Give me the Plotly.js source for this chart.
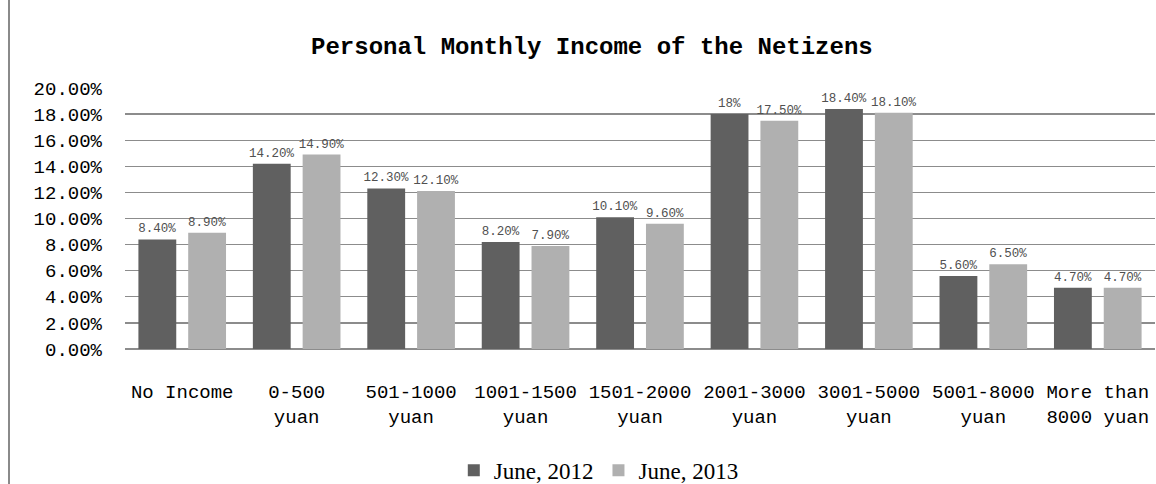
<!DOCTYPE html>
<html>
<head>
<meta charset="utf-8">
<script src="https://cdn.plot.ly/plotly-3.0.1.min.js"></script>
<style>
html,body{margin:0;padding:0;background:#fff;}
#wrap{position:relative;width:1156px;height:484px;}
#chart{width:1156px;height:484px;}
#edge{position:absolute;left:8px;top:0;width:2px;height:484px;background:#8a8a8a;}
</style>
</head>
<body>
<div id="wrap"><div id="chart"></div><div id="edge"></div></div>
<script>
const categories = ["No Income", "0-500<br>yuan", "501-1000<br>yuan", "1001-1500<br>yuan", "1501-2000<br>yuan", "2001-3000<br>yuan", "3001-5000<br>yuan", "5001-8000<br>yuan", "More than<br>8000 yuan"];
const june2012 = [8.4, 14.2, 12.3, 8.2, 10.1, 18, 18.4, 5.6, 4.7];
const june2013 = [8.9, 14.9, 12.1, 7.9, 9.6, 17.5, 18.1, 6.5, 4.7];
const labels2012 = ["8.40%", "14.20%", "12.30%", "8.20%", "10.10%", "18%", "18.40%", "5.60%", "4.70%"];
const labels2013 = ["8.90%", "14.90%", "12.10%", "7.90%", "9.60%", "17.50%", "18.10%", "6.50%", "4.70%"];
const yTicks = [0, 2, 4, 6, 8, 10, 12, 14, 16, 18, 20];
const yTickLabels = ["0.00%", "2.00%", "4.00%", "6.00%", "8.00%", "10.00%", "12.00%", "14.00%", "16.00%", "18.00%", "20.00%"];

const mono = "'Liberation Mono', 'DejaVu Sans Mono', monospace";
const labelFont = {family: mono, size: 12.5, color: "#505050"};

const traces = [
  {type: "bar", name: "June, 2012", x: categories, y: june2012, text: labels2012,
   textposition: "outside", textfont: labelFont, cliponaxis: false, constraintext: "none",
   marker: {color: "#606060"}, hoverinfo: "x+y"},
  {type: "bar", name: "June, 2013", x: categories, y: june2013, text: labels2013,
   textposition: "outside", textfont: labelFont, cliponaxis: false, constraintext: "none",
   marker: {color: "#b0b0b0"}, hoverinfo: "x+y"}
];

const layout = {
  width: 1156, height: 484,
  margin: {l: 125, r: 1, t: 88, b: 135, autoexpand: false},
  paper_bgcolor: "#ffffff", plot_bgcolor: "#ffffff",
  barmode: "group", bargap: 0.13, bargroupgap: 0.24,
  title: {text: "<b>Personal Monthly Income of the Netizens</b>",
          font: {family: mono, size: 24, color: "#000"},
          x: 0.512, xanchor: "center", y: 0.905, yanchor: "middle"},
  xaxis: {type: "category", tickfont: {family: mono, size: 19, color: "#000"},
          showgrid: false, showline: false, ticks: "", ticklabelstandoff: 29,
          automargin: false},
  yaxis: {range: [0, 20], tickvals: yTicks, ticktext: yTickLabels,
          tickfont: {family: mono, size: 19, color: "#000"},
          showgrid: true, gridcolor: "#8c8c8c", gridwidth: 1.3,
          zeroline: true, zerolinecolor: "#8c8c8c", zerolinewidth: 1.3,
          showline: false, ticks: "", ticklabelstandoff: 22, automargin: false},
  showlegend: true,
  legend: {orientation: "h", x: 0.46, xanchor: "center", y: -0.465, yanchor: "middle",
           font: {family: "'Liberation Serif', 'DejaVu Serif', serif", size: 23, color: "#000"},
           itemwidth: 30, traceorder: "normal"},
  font: {family: mono}
};

Plotly.newPlot("chart", traces, layout, {displayModeBar: false, staticPlot: true});
</script>
</body>
</html>
